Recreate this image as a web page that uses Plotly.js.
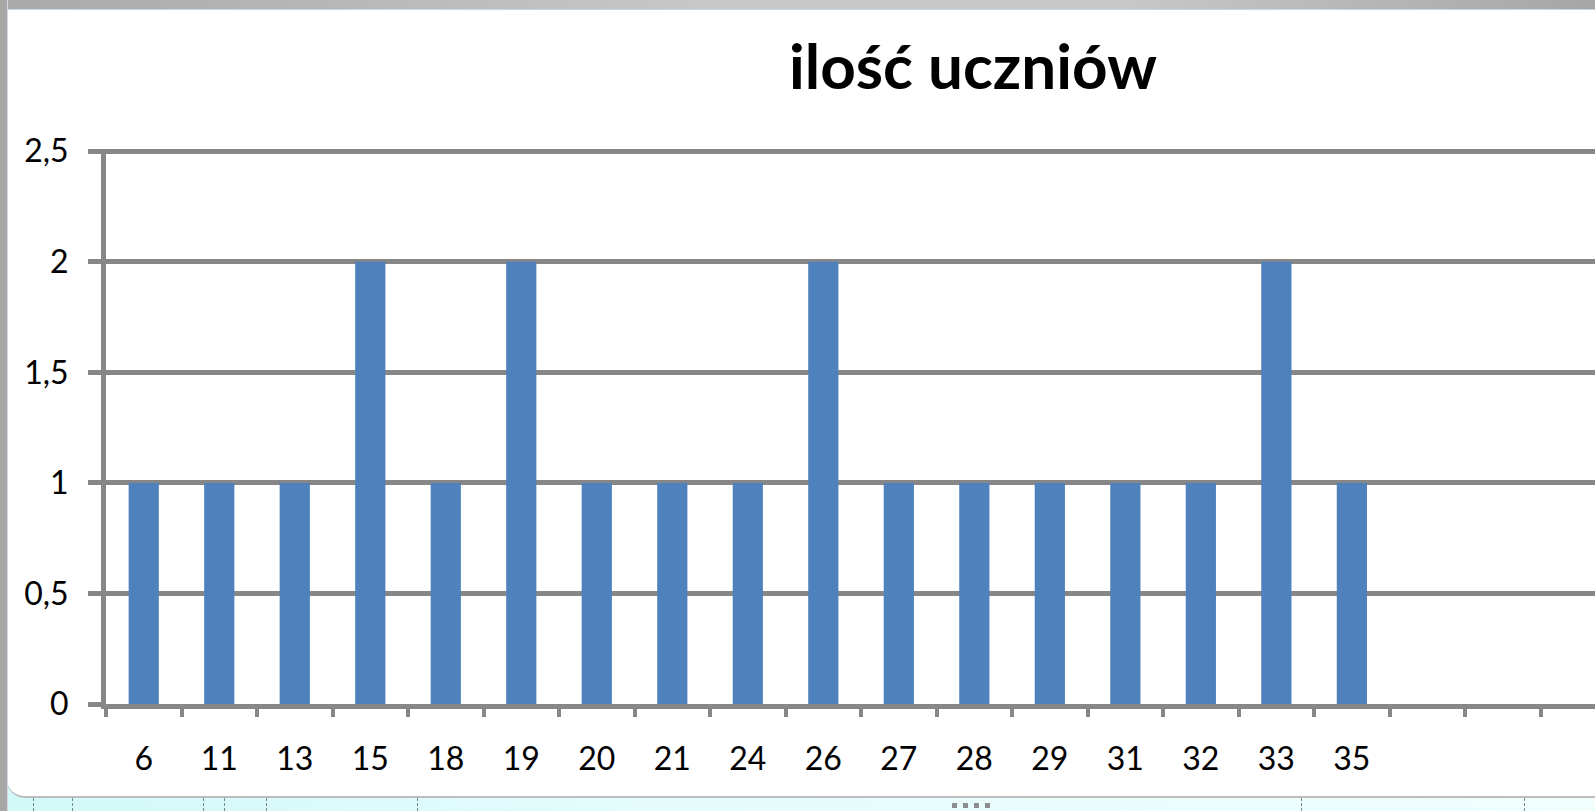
<!DOCTYPE html>
<html>
<head>
<meta charset="utf-8">
<script src="https://cdn.plot.ly/plotly-3.0.1.min.js"></script>
<style>
  html, body { margin: 0; padding: 0; width: 1595px; height: 811px; overflow: hidden; background: #ffffff; }
  #sheet { position: absolute; left: 0; top: 0; width: 1595px; height: 811px;
           background: linear-gradient(to right, #d2f8f8, #e4fcfc 40%, #f0fefe); }
  .cellline { position: absolute; top: 798px; height: 13px; width: 0; border-left: 1px dashed #7a8a8a; }
  #chartbg { position: absolute; left: 7px; top: 9px; width: 1620px; height: 786px; background: #ffffff;
             border-bottom: 2px solid #bdbdbd; border-bottom-left-radius: 18px; border-top: 1px solid #c9d6e8; }
  #topbar { position: absolute; left: 0; top: 0; width: 1595px; height: 9px;
            background: linear-gradient(to right, #a9a9a9, #c8c8c8 45%, #c8c8c8 70%, #a6a6a6); }
  #leftbar { position: absolute; left: 0; top: 0; width: 7px; height: 811px; background: #a8a8a8;
             border-right: 1px solid #d4dbe6; }
  .dot { position: absolute; top: 803px; width: 5px; height: 5px; background: #8c8c8c; }
  #plot { position: absolute; left: 0; top: 0; width: 1595px; height: 811px; }
</style>
</head>
<body>
<div id="sheet"></div>
<div class="cellline" style="left:33px"></div>
<div class="cellline" style="left:72px"></div>
<div class="cellline" style="left:203px"></div>
<div class="cellline" style="left:224px"></div>
<div class="cellline" style="left:266px"></div>
<div class="cellline" style="left:417px"></div>
<div class="cellline" style="left:1301px"></div>
<div class="cellline" style="left:1524px"></div>
<div id="chartbg"></div>
<div id="topbar"></div>
<div id="leftbar"></div>
<div class="dot" style="left:952px"></div>
<div class="dot" style="left:963px"></div>
<div class="dot" style="left:974px"></div>
<div class="dot" style="left:985px"></div>
<div id="plot"></div>
<script>
const categories = ["6", "11", "13", "15", "18", "19", "20", "21", "24", "26", "27", "28", "29", "31", "32", "33", "35"];
const counts = [1, 1, 1, 2, 1, 2, 1, 1, 1, 2, 1, 1, 1, 1, 1, 2, 1];
const chartTitle = "ilość uczniów";

const gridColor = "#878787";
const fontFamily = "Lato, 'Open Sans', sans-serif";
const xRange = [-0.5, 19.22];

const trace = {
  type: "bar",
  x: categories,
  y: counts,
  width: 0.4,
  marker: { color: "#4f81bd", line: { width: 0 } },
  hoverinfo: "x+y"
};

// invisible helper trace so the boundary-tick axis (x2) is drawn
const tickTrace = {
  type: "scatter",
  mode: "none",
  x: [xRange[0]],
  y: [0],
  xaxis: "x2",
  yaxis: "y",
  hoverinfo: "skip",
  showlegend: false
};

const layout = {
  width: 1595,
  height: 811,
  paper_bgcolor: "rgba(0,0,0,0)",
  plot_bgcolor: "rgba(0,0,0,0)",
  separators: ", ",
  margin: { l: 106, r: 0, t: 149, b: 107, pad: 0 },
  showlegend: false,
  title: {
    text: "<b>" + chartTitle + "</b>",
    font: { family: fontFamily, size: 62, color: "#000000" },
    x: 973 / 1595,
    xanchor: "center",
    xref: "container",
    y: 1 - 67 / 811,
    yanchor: "middle",
    yref: "container"
  },
  bargap: 0.6,
  xaxis: {
    type: "category",
    categoryorder: "array",
    categoryarray: categories,
    range: xRange,
    ticks: "",
    showline: true,
    linecolor: gridColor,
    linewidth: 5,
    showgrid: false,
    zeroline: false,
    ticklabelstandoff: 23,
    tickfont: { family: fontFamily, size: 32, color: "#000000" },
    fixedrange: true
  },
  xaxis2: {
    type: "linear",
    overlaying: "x",
    anchor: "y",
    side: "bottom",
    range: xRange,
    tickmode: "linear",
    tick0: -0.5,
    dtick: 1,
    ticks: "outside",
    ticklen: 12,
    tickwidth: 4,
    tickcolor: gridColor,
    showticklabels: false,
    showline: false,
    showgrid: false,
    zeroline: false,
    fixedrange: true
  },
  yaxis: {
    range: [0, 2.51],
    tickmode: "linear",
    dtick: 0.5,
    tick0: 0,
    ticks: "outside",
    ticklen: 13,
    tickwidth: 5,
    tickcolor: gridColor,
    showline: true,
    linecolor: gridColor,
    linewidth: 5,
    showgrid: true,
    gridcolor: gridColor,
    gridwidth: 5,
    zeroline: false,
    ticklabelstandoff: 13,
    tickfont: { family: fontFamily, size: 32, color: "#000000" },
    fixedrange: true
  }
};

Plotly.newPlot("plot", [trace, tickTrace], layout, { staticPlot: true, displayModeBar: false });
</script>
</body>
</html>
